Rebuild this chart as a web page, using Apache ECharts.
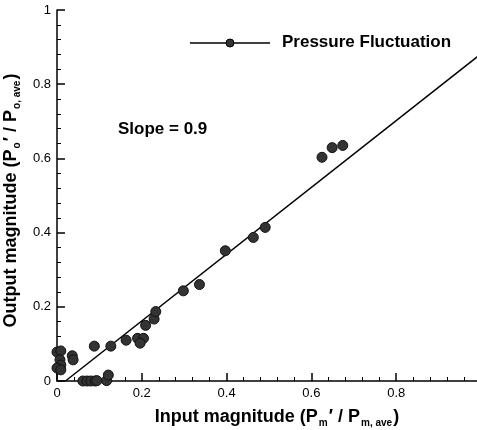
<!DOCTYPE html>
<html>
<head>
<meta charset="utf-8">
<script src="https://cdn.jsdelivr.net/npm/echarts@6/dist/echarts.min.js"></script>
<style>html,body{margin:0;padding:0;background:#fff}#c{width:477px;height:430px}</style>
</head>
<body>
<div id="c"></div>
<script>
var inputX = [0.000, 0.009, 0.007, 0.009, 0.000, 0.009, 0.036, 0.038, 0.088, 0.127,
              0.061, 0.071, 0.080, 0.090, 0.094, 0.117, 0.121,
              0.163, 0.190, 0.204, 0.196, 0.209, 0.229, 0.233,
              0.298, 0.336, 0.397, 0.463, 0.491, 0.625, 0.649, 0.674];
var outputY = [0.078, 0.081, 0.057, 0.043, 0.035, 0.030, 0.068, 0.057, 0.094, 0.094,
               0.000, 0.000, 0.000, 0.000, 0.001, 0.001, 0.016,
               0.110, 0.115, 0.115, 0.102, 0.150, 0.167, 0.187,
               0.243, 0.260, 0.351, 0.387, 0.414, 0.603, 0.629, 0.635];
var fitX = [0.02, 1.0];
var fitY = [0.0, 0.882];
var xTicks = ['0', '0.2', '0.4', '0.6', '0.8', '1'];
var yTicks = ['0', '0.2', '0.4', '0.6', '0.8', '1'];

var pts = inputX.map(function (x, i) { return [x, outputY[i]]; });
var fit = fitX.map(function (x, i) { return [x, fitY[i]]; });
function tickLabel(arr) { return function (v) { var i = Math.round(v / 0.2); return (Math.abs(v - i * 0.2) < 1e-6) ? arr[i] : ''; }; }

var chart = echarts.init(document.getElementById('c'));
var font = 'Liberation Sans, Arial, sans-serif';
var richName = {
  b: { fontSize: 18, fontWeight: 'bold', color: '#000', fontFamily: font },
  s: { fontSize: 10, fontWeight: 'bold', color: '#000', fontFamily: font, padding: [12, 1, 0, 1] }
};
chart.setOption({
  animation: false,
  textStyle: { fontFamily: font },
  grid: { left: 57, top: 10, width: 424, height: 371, outerBoundsMode: 'none', containLabel: false },
  xAxis: {
    type: 'value', min: 0, max: 1, interval: 0.2,
    name: '{b|Input magnitude (P}{s|m}{b|′ / P}{s|m, ave}{b|)}',
    nameLocation: 'middle', nameGap: 25,
    nameTextStyle: { rich: richName, padding: [0, 0, 0, 16] },
    axisLine: { lineStyle: { color: '#000', width: 1.5 } },
    axisTick: { inside: true, length: 8, lineStyle: { color: '#000', width: 1.5 } },
    minorTick: { show: true, splitNumber: 5, length: 4, lineStyle: { color: '#000', width: 1 } },
    axisLabel: { color: '#000', fontSize: 13, margin: 6, formatter: tickLabel(xTicks), fontFamily: font },
    splitLine: { show: false }
  },
  yAxis: {
    type: 'value', min: 0, max: 1, interval: 0.2,
    name: '{b|Output magnitude (P}{s|o}{b|′ / P}{s|o, ave}{b|)}',
    nameLocation: 'middle', nameGap: 31, nameRotate: 90,
    nameTextStyle: { rich: richName, padding: [0, 10, 0, 0] },
    axisLine: { lineStyle: { color: '#000', width: 1.5 } },
    axisTick: { inside: true, length: 8, lineStyle: { color: '#000', width: 1.5 } },
    minorTick: { show: true, splitNumber: 5, length: 4, lineStyle: { color: '#000', width: 1 } },
    axisLabel: { color: '#000', fontSize: 13, margin: 6, formatter: tickLabel(yTicks), fontFamily: font },
    splitLine: { show: false }
  },
  graphic: [
    { type: 'text', left: 118, top: 121, style: { text: 'Slope = 0.9', font: 'bold 17px ' + font, fill: '#000' } },
    { type: 'line', shape: { x1: 190, y1: 43, x2: 270, y2: 43 }, style: { stroke: '#000', lineWidth: 1.5 } },
    { type: 'circle', shape: { cx: 230, cy: 43, r: 4 }, style: { fill: '#333', stroke: '#000', lineWidth: 1 } },
    { type: 'text', left: 282, top: 34, style: { text: 'Pressure Fluctuation', font: 'bold 17px ' + font, fill: '#000' } }
  ],
  series: [
    { name: 'fit', type: 'line', data: fit, symbol: 'none', lineStyle: { color: '#000', width: 1.5 }, z: 2 },
    { name: 'Pressure Fluctuation', type: 'scatter', data: pts, symbol: 'circle', symbolSize: 10,
      itemStyle: { color: '#333', borderColor: '#111', borderWidth: 1, opacity: 1 }, z: 3 }
  ]
});
</script>
</body>
</html>
